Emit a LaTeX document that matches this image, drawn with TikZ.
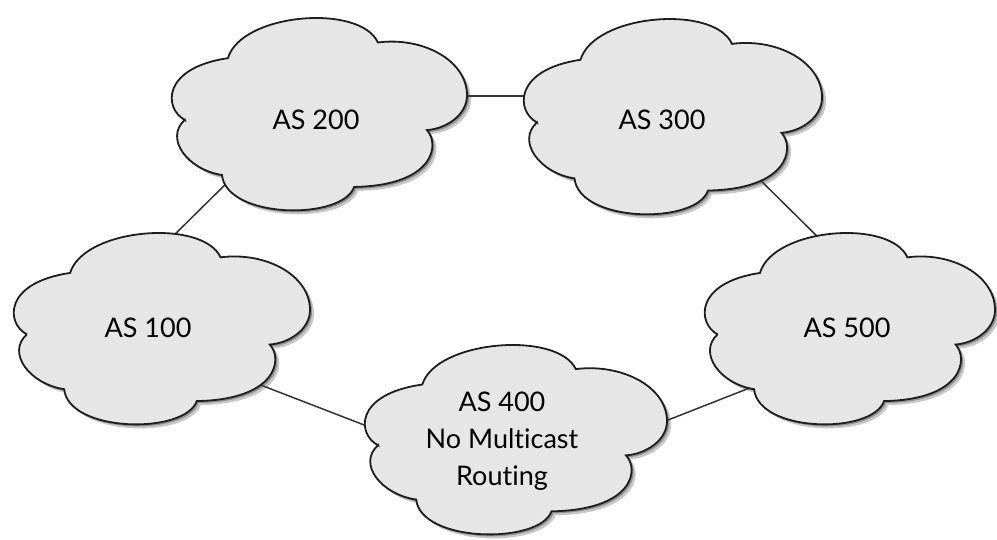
\documentclass[tikz,border=0pt]{standalone}
\usepackage{fontspec}
\setmainfont{Lato}[Ligatures={NoCommon}]
\usetikzlibrary{backgrounds}

\definecolor{cloudfill}{HTML}{E6E6E6}
\definecolor{cloudline}{HTML}{1E1E1E}
\definecolor{linkline}{HTML}{333333}
\definecolor{cloudshade}{HTML}{4A4A4A}

% One cloud outline in a unit box (x to the right, y downwards)
\newcommand\cloudoutline{(0.05,0.525)
  .. controls (-0.02,0.47) and (-0.03,0.26) .. (0.195,0.21)
  .. controls (0.24,-0.02) and (0.64,-0.07) .. (0.70,0.13)
  .. controls (0.85,0.10) and (1.0,0.22) .. (1.0,0.40)
  .. controls (1.0,0.50) and (0.93,0.57) .. (0.865,0.577)
  .. controls (0.91,0.65) and (0.89,0.86) .. (0.62,0.867)
  .. controls (0.58,1.04) and (0.19,1.03) .. (0.175,0.806)
  .. controls (0.06,0.78) and (-0.02,0.62) .. cycle}

% Cloud with drop shadow: left, top, width, height
\newcommand\puffcloud[4]{%
  \begin{scope}[shift={(#1+4,#2+4)},xscale=#3,yscale=#4]
    \fill[cloudshade,opacity=0.30] \cloudoutline;
  \end{scope}
  \begin{scope}[shift={(#1+2,#2+2)},xscale=#3,yscale=#4]
    \fill[cloudshade,opacity=0.45] \cloudoutline;
  \end{scope}
  \begin{scope}[shift={(#1,#2)},xscale=#3,yscale=#4]
    \filldraw[cloudbody] \cloudoutline;
  \end{scope}}

\tikzset{
  cloudbody/.style={fill=cloudfill, draw=cloudline, line width=1.8pt},
  astext/.style={font=\fontsize{27}{37}\selectfont, align=center, text=black, inner sep=0pt},
  link/.style={draw=linkline, line width=1.5pt}
}

\begin{document}
\begin{tikzpicture}[x=1pt,y=-1pt]
\useasboundingbox (0,0) rectangle (997,539);

% autonomous systems
\puffcloud{170}{17}{297}{196}
\puffcloud{522}{18}{300}{199}
\puffcloud{12}{232}{298}{195}
\puffcloud{703}{232}{292}{195}
\puffcloud{363}{344}{304}{193}

\node[astext] (as200) at (316,120) {AS 200};
\node[astext] (as300) at (662,120) {AS 300};
\node[astext] (as100) at (148,328) {AS 100};
\node[astext] (as500) at (847,328) {AS 500};
\node[astext] (as400) at (502,441) {AS 400\\No Multicast\\Routing};

% link ports, tucked under the cloud edges
\coordinate (as200-sw) at (240,170);
\coordinate (as200-e)  at (440,96);
\coordinate (as300-w)  at (550,96);
\coordinate (as300-se) at (740,160);
\coordinate (as100-n)  at (160,249);
\coordinate (as100-se) at (240,377);
\coordinate (as400-w)  at (390,435);
\coordinate (as400-e)  at (640,431);
\coordinate (as500-n)  at (835,254);
\coordinate (as500-sw) at (775,378);

\begin{pgfonlayer}{background}
  \draw[link] (as200-sw) -- (as100-n);
  \draw[link] (as200-e) -- (as300-w);
  \draw[link] (as300-se) -- (as500-n);
  \draw[link] (as100-se) -- (as400-w);
  \draw[link] (as400-e) -- (as500-sw);
\end{pgfonlayer}
\end{tikzpicture}
\end{document}
